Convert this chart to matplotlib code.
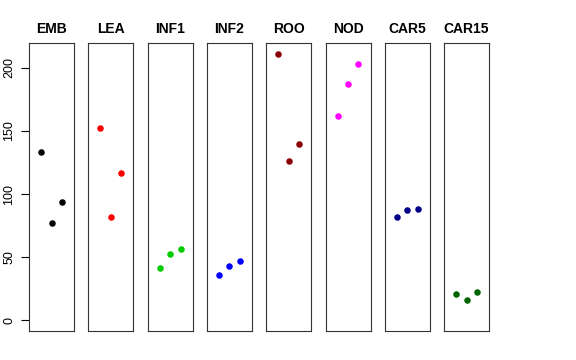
import matplotlib
matplotlib.use("Agg")
import matplotlib.pyplot as plt

plt.rcParams['font.family'] = ['Liberation Sans', 'DejaVu Sans']

# data
groups = ["EMB", "LEA", "INF1", "INF2", "ROO", "NOD", "CAR5", "CAR15"]
colors = ["black", "red", "#00CD00", "blue", "#8B0000", "magenta", "#00008B", "#006400"]
emb = [133.6, 77.1, 93.5]
lea = [152.1, 81.9, 116.5]
inf1 = [41.2, 52.8, 56.7]
inf2 = [35.7, 43.3, 46.8]
roo = [211.3, 126.5, 139.7]
nod = [162.1, 187.0, 202.9]
car5 = [81.9, 87.4, 88.2]
car15 = [20.8, 16.3, 22.2]
values = [emb, lea, inf1, inf2, roo, nod, car5, car15]
yticks = [0, 50, 100, 150, 200]

W, H = 576, 360
fig = plt.figure(figsize=(W / 100, H / 100), dpi=100)

ymax = max(max(v) for v in values)
yr = ymax - 0
ylim = (0 - 0.04 * yr, ymax + 0.04 * yr)

left0, step, pw = 29, 59.3, 45
top, bottom = 43, 331

for i, (name, col, vals) in enumerate(zip(groups, colors, values)):
    x0 = left0 + i * step
    ax = fig.add_axes([x0 / W, 1 - bottom / H, pw / W, (bottom - top) / H])
    ax.scatter([1, 2, 3], vals, s=22, color=col, zorder=3, linewidths=0)
    ax.set_xlim(-0.16, 4.16)
    ax.set_ylim(*ylim)
    ax.set_xticks([])
    for sp in ax.spines.values():
        sp.set_linewidth(0.8)
        sp.set_color("#333333")
    ax.set_title(name, fontsize=10, fontweight="bold", pad=7)
    if i == 0:
        ax.set_yticks(yticks)
        ax.set_yticklabels([str(t) for t in yticks], rotation=90, va="center",
                           fontsize=9)
        ax.tick_params(axis="y", length=6, width=0.8, pad=4)
    else:
        ax.set_yticks([])

fig.savefig("out.png", dpi=100)
